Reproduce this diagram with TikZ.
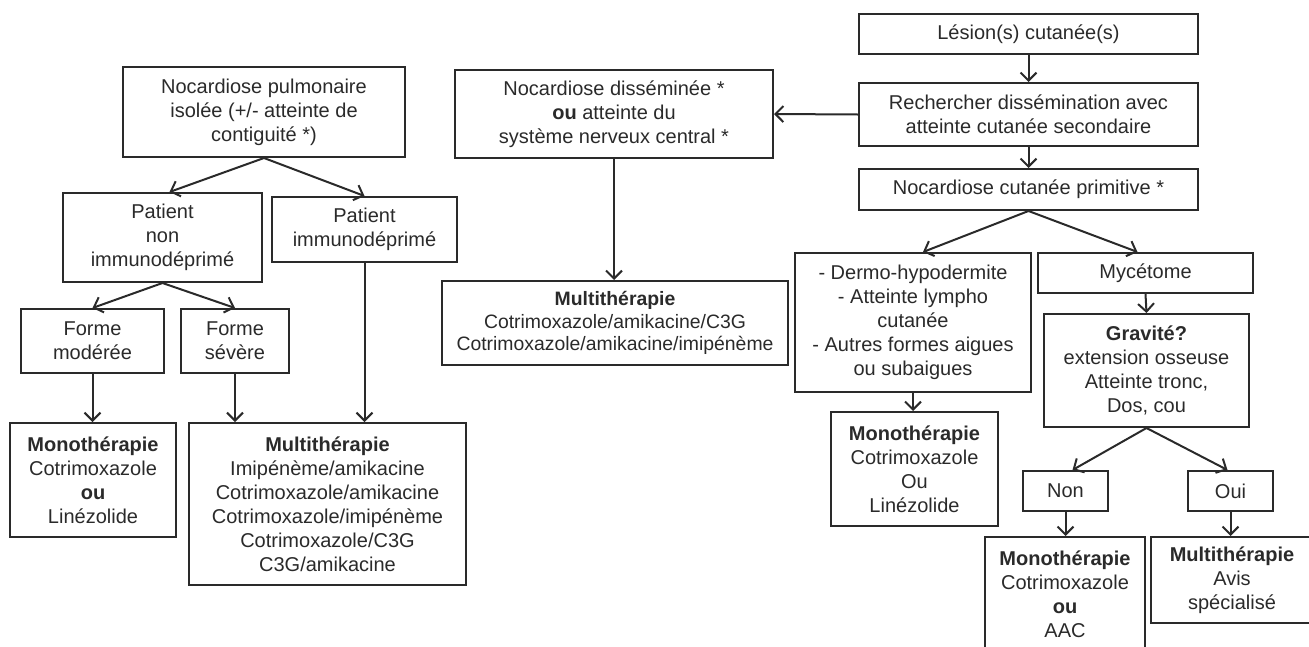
\documentclass[tikz,border=0pt]{standalone}
\usepackage{fontspec}
\setmainfont{Liberation Sans}
\usetikzlibrary{arrows.meta}
\definecolor{ink}{HTML}{2A2A2A}
\tikzset{
	box/.style={draw=ink, line width=2pt, text=ink, align=center, inner sep=0pt,
		font=\fontsize{20}{24}\selectfont},
	link/.style={draw=ink, line width=2pt, -{Straight Barb[length=8pt,width=16pt]}},
}
\begin{document}
\begin{tikzpicture}[x=1pt, y=-1pt]
	\useasboundingbox (0,0) rectangle (1309,646);
	\clip (0,0) rectangle (1309,646);

	% pulmonaire
	\node[box, minimum width=282pt, minimum height=90pt] (pulm) at (264,112)
	   {Nocardiose pulmonaire\\isolée (+/- atteinte de\\contiguité *)};
	\node[box, minimum width=199pt, minimum height=89pt] (patnon) at (162.5,237.5)
	   {Patient\\non\\immunodéprimé};
	\node[box, minimum width=185pt, minimum height=65pt] (patimm) at (364.5,229.5)
	   {Patient\\immunodéprimé};
	\node[box, minimum width=143pt, minimum height=64pt] (formmod) at (92.5,341)
	   {Forme\\modérée};
	\node[box, minimum width=108pt, minimum height=64pt] (formsev) at (235,341)
	   {Forme\\sévère};
	\node[box, minimum width=166pt, minimum height=114pt] (monol) at (93,480)
	   {\textbf{Monothérapie}\\Cotrimoxazole\\\textbf{ou}\\Linézolide};
	\node[box, minimum width=277pt, minimum height=162pt] (multil) at (327.5,504)
	   {\textbf{Multithérapie}\\Imipénème/amikacine\\Cotrimoxazole/amikacine\\Cotrimoxazole/imipénème\\Cotrimoxazole/C3G\\C3G/amikacine};

	\draw[link] (pulm.south) -- ([xshift=7pt]patnon.north);
	\draw[link] (pulm.south) -- (patimm.north);
	\draw[link] (patnon.south) -- (formmod.north);
	\draw[link] (patnon.south) -- (formsev.north);
	\draw[link] (formmod.south) -- (formmod.south |- monol.north);
	\draw[link] (formsev.south) -- (formsev.south |- multil.north);
	\draw[link] (patimm.south) -- (patimm.south |- multil.north);

	% disseminee
	\node[box, minimum width=318pt, minimum height=88pt] (dissem) at (614,114)
	   {Nocardiose disséminée *\\\textbf{ou} atteinte du\\système nerveux central *};
	\node[box, minimum width=346pt, minimum height=84pt, font=\fontsize{19.4}{22.5}\selectfont] (multic) at (615,323)
	   {\textbf{Multithérapie}\\Cotrimoxazole/amikacine/C3G\\Cotrimoxazole/amikacine/imipénème};

	\draw[link] (dissem.south) -- (dissem.south |- multic.north);

	% cutanee
	\node[box, minimum width=339pt, minimum height=40pt] (lesion) at (1028.5,34)
	   {Lésion(s) cutanée(s)};
	\node[box, minimum width=339pt, minimum height=63pt] (recher) at (1028.5,114.5)
	   {Rechercher dissémination avec\\atteinte cutanée secondaire};
	\node[box, minimum width=339pt, minimum height=41pt] (cutprim) at (1028.5,189.5)
	   {Nocardiose cutanée primitive *};
	\node[box, minimum width=236pt, minimum height=139pt] (dermo) at (913,322.5)
	   {- Dermo-hypodermite\\- Atteinte lympho\\cutanée\\- Autres formes aigues\\ou subaigues};
	\node[box, minimum width=215pt, minimum height=40pt] (myce) at (1145.5,273)
	   {Mycétome};
	\node[box, minimum width=205pt, minimum height=113pt] (grav) at (1146.5,370.5)
	   {\textbf{Gravité?}\\extension osseuse\\Atteinte tronc,\\Dos, cou};
	\node[box, minimum width=167pt, minimum height=114pt] (monom) at (914.5,469)
	   {\textbf{Monothérapie}\\Cotrimoxazole\\Ou\\Linézolide};
	\node[box, minimum width=85pt, minimum height=40pt] (non) at (1065.5,491) {Non};
	\node[box, minimum width=85pt, minimum height=40pt] (oui) at (1230.5,491) {Oui};
	\node[box, minimum width=160pt, minimum height=114pt] (monor) at (1065,594)
	   {\textbf{Monothérapie}\\Cotrimoxazole\\\textbf{ou}\\AAC};
	\node[box, minimum width=162pt, minimum height=86pt] (multir) at (1232,580)
	   {\textbf{Multithérapie}\\Avis\\spécialisé};

	\draw[link] (lesion.south) -- (recher.north);
	\draw[link] (recher.south) -- (cutprim.north);
	\draw[link] (recher.west) -- (dissem.east);
	\draw[link] (cutprim.south) -- ([xshift=10pt]dermo.north);
	\draw[link] (cutprim.south) -- ([xshift=-8pt]myce.north);
	\draw[link] (myce.south) -- (grav.north);
	\draw[link] (dermo.south) -- (dermo.south |- monom.north);
	\draw[link] (grav.south) -- ([xshift=7pt]non.north);
	\draw[link] (grav.south) -- ([xshift=-3pt]oui.north);
	\draw[link] (non.south) -- (non.south |- monor.north);
	\draw[link] (oui.south) -- (oui.south |- multir.north);
\end{tikzpicture}
\end{document}
